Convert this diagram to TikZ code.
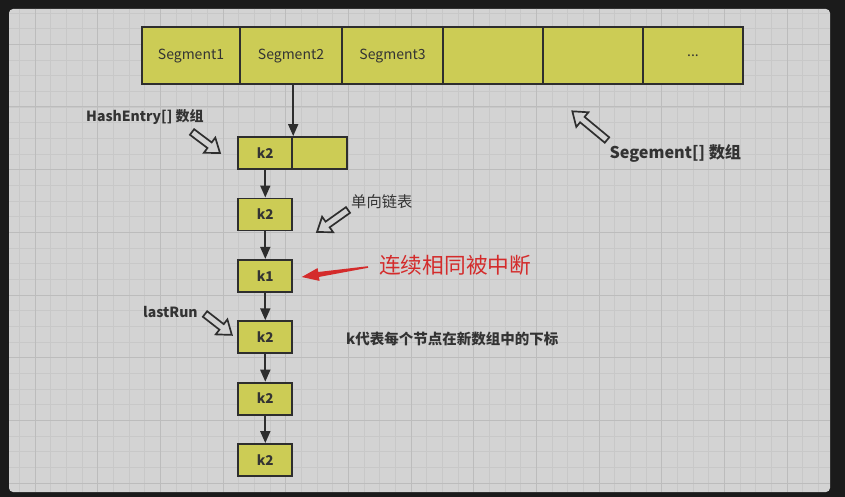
\documentclass[tikz,border=0pt]{standalone}
\usepackage{fontspec}
\setmainfont{Noto Sans CJK SC}
\usetikzlibrary{arrows.meta,calc}
\definecolor{outer}{HTML}{1B1B1B}
\definecolor{panel}{HTML}{D3D3D3}
\definecolor{minorc}{HTML}{C8C8C8}
\definecolor{majorc}{HTML}{BCBCBC}
\definecolor{cell}{HTML}{CCCC55}
\definecolor{ink}{HTML}{2E2E2E}
\definecolor{txt}{HTML}{333333}
\definecolor{redc}{HTML}{D42B2B}
\begin{document}
\begin{tikzpicture}[x=1pt,y=-1pt,
  cellbox/.style={draw=ink, line width=1.8pt, fill=cell, inner sep=0pt, text=txt, font=\fontsize{14}{16}\selectfont},
  kbox/.style={cellbox, minimum width=54pt, minimum height=32pt, font=\bfseries\fontsize{13.5}{16}\selectfont},
  link/.style={draw=ink, line width=1.8pt, -{Triangle[width=10pt,length=12pt]}},
  lbl/.style={text=txt, inner sep=0pt, anchor=west, font=\bfseries\fontsize{14}{16}\selectfont},
  pics/hollow/.style={code={\draw[ink, line width=1.7pt, fill=panel, line join=miter]
      (0,-3.5) -- (#1-13,-3.5) -- (#1-13,-9.5) -- (#1,0) -- (#1-13,9.5) -- (#1-13,3.5) -- (0,3.5) -- cycle;}},
  pics/redarrow/.style={code={\fill[redc]
      (0,-0.8) -- (#1-17,-2.5) -- (#1-17,-6.5) -- (#1,0) -- (#1-17,6.5) -- (#1-17,2.5) -- (0,0.8) -- cycle;}},
]
% background and panel
\fill[outer] (0,0) rectangle (845,497);
\fill[panel, rounded corners=4pt] (9,9) rectangle (830,492);
\begin{scope}
  \clip[rounded corners=4pt] (9,9) rectangle (830,492);
  \foreach \i in {0,...,53} {
    \draw[minorc, line width=0.8pt] ({3.67+15.67*\i},9) -- ({3.67+15.67*\i},492);
  }
  \foreach \j in {0,...,32} {
    \draw[minorc, line width=0.8pt] (9,{-2.7+15.67*\j}) -- (830,{-2.7+15.67*\j});
  }
  \foreach \i in {0,...,13} {
    \draw[majorc, line width=1pt] ({35+62.68*\i},9) -- ({35+62.68*\i},492);
  }
  \foreach \j in {0,...,7} {
    \draw[majorc, line width=1pt] (9,{44.3+62.68*\j}) -- (830,{44.3+62.68*\j});
  }
\end{scope}

% Segment array
\node[cellbox, minimum width=98pt,  minimum height=57pt] (s1) at (191,55.8) {Segment1};
\node[cellbox, minimum width=102pt, minimum height=57pt] (s2) at (291,55.8) {Segment2};
\node[cellbox, minimum width=101pt, minimum height=57pt] (s3) at (392.5,55.8) {Segment3};
\node[cellbox, minimum width=100pt, minimum height=57pt] (s4) at (493,55.8) {};
\node[cellbox, minimum width=100pt, minimum height=57pt] (s5) at (593,55.8) {};
\node[cellbox, minimum width=100pt, minimum height=57pt] (s6) at (693,55.8) {...};

% HashEntry array
\node[kbox] (he1) at (265.3,153) {k2};
\node[cellbox, minimum width=55pt, minimum height=32pt] (he2) at (319.8,153) {};

% chain
\node[kbox] (c2) at (265.3,214.4) {k2};
\node[kbox] (c3) at (265.3,275.8) {k1};
\node[kbox] (c4) at (265.3,337.2) {k2};
\node[kbox] (c5) at (265.3,398.6) {k2};
\node[kbox] (c6) at (265.3,460) {k2};

\coordinate (segdrop) at (he1.north east |- s2.south);
\draw[link] (segdrop) -- (he1.north east);
\draw[link] (he1) -- (c2);
\draw[link] (c2) -- (c3);
\draw[link] (c3) -- (c4);
\draw[link] (c4) -- (c5);
\draw[link] (c5) -- (c6);

% labels
\node[lbl] (hl) at (86,116.7) {HashEntry[] 数组};
\node[lbl, font=\fontsize{15.3}{18}\selectfont] (dl) at (351,201.7) {单向链表};
\node[lbl, text=redc, font=\fontsize{21.7}{25}\selectfont] (rl) at (379,265) {连续相同被中断};
\node[lbl] (lr) at (143,311.7) {lastRun};
\node[lbl, font=\bfseries\fontsize{14.5}{17}\selectfont] (kl) at (346,339.3) {k代表每个节点在新数组中的下标};
\node[lbl, font=\bfseries\fontsize{16.2}{19}\selectfont] (sl) at (609.3,153.3) {Segement[] 数组};

% pointer arrows
\coordinate (ha1) at (192,132);
\coordinate (ha2) at (348,210);
\coordinate (ha3) at (205,314);
\coordinate (ha4) at (607,140);
\coordinate (ra) at (368,267);
\pic[rotate=-36.9] at (ha1) {hollow=35};
\pic[rotate=-144.6] at (ha2) {hollow=38};
\pic[rotate=-37.9] at (ha3) {hollow=34};
\pic[rotate=140.4] at (ha4) {hollow=45};
\pic[rotate=-171.4] at (ra) {redarrow=67};

\useasboundingbox (0,0) rectangle (845,497);
\end{tikzpicture}
\end{document}
